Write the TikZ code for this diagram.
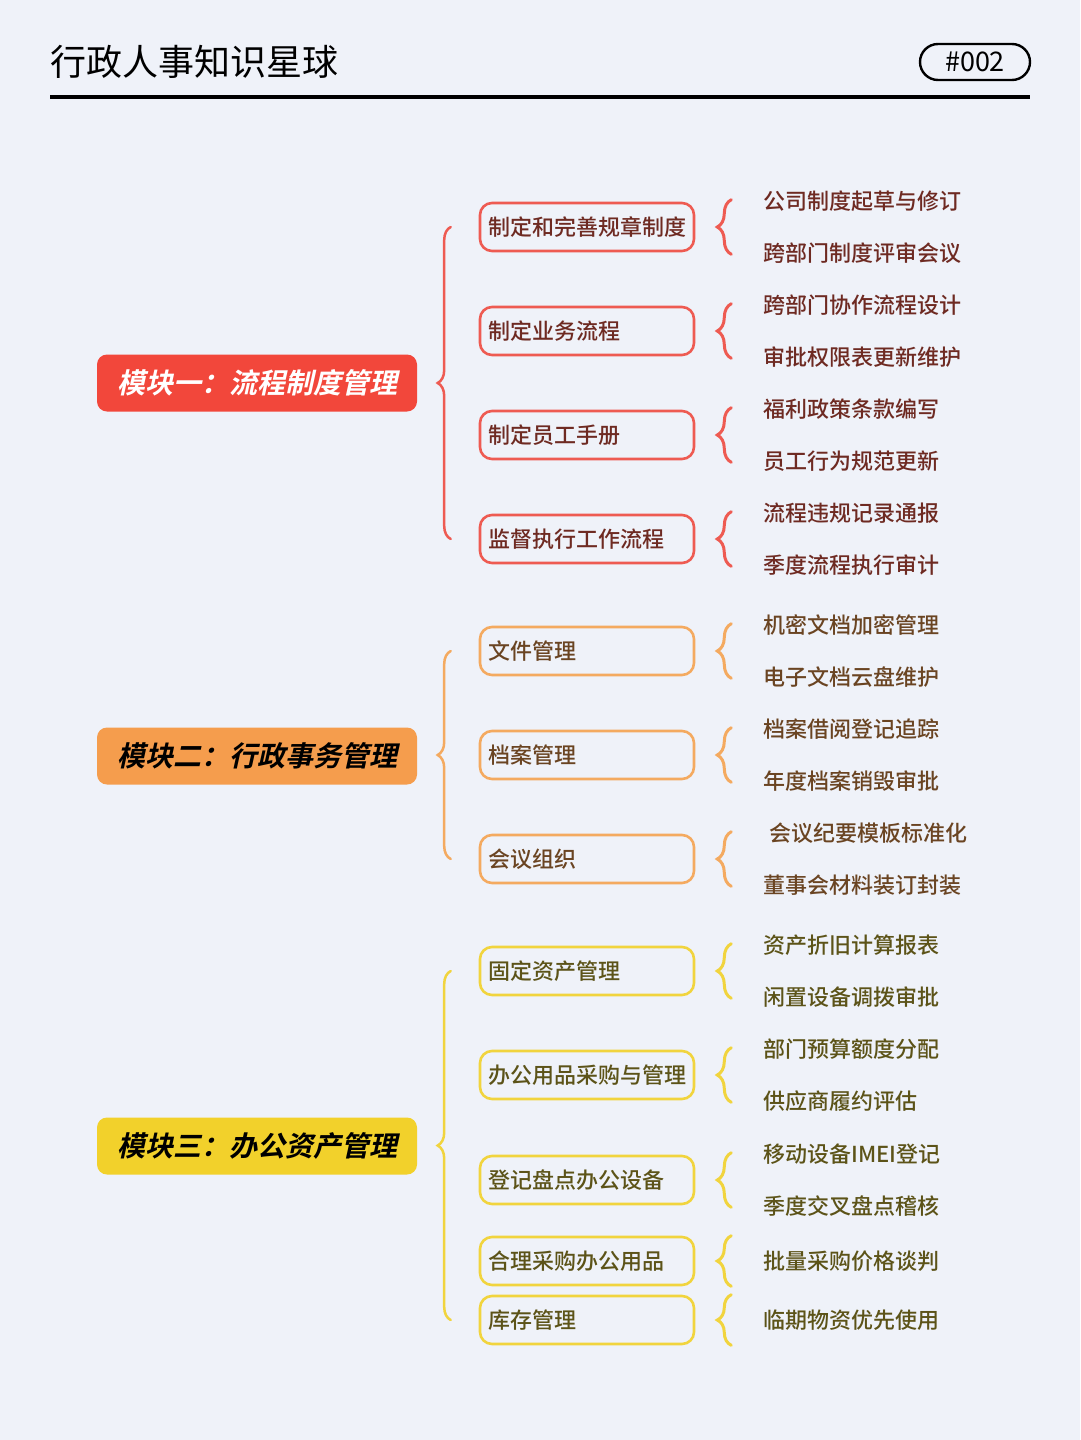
\documentclass[tikz,border=0pt]{standalone}
\usepackage{fontspec}
\setmainfont{Noto Sans CJK SC}
\newfontfamily\titlefont{Noto Sans CJK SC}
\newfontfamily\leaffont{Noto Sans CJK SC Medium}
\newfontfamily\modfont{Noto Sans CJK SC Bold}[FakeSlant=0.22]
\usepackage{tikz}
\usetikzlibrary{positioning, decorations.pathreplacing}

\definecolor{bgcol}{HTML}{EFF2F9}
\definecolor{redmain}{HTML}{F2473B}
\definecolor{redline}{HTML}{EE5B52}
\definecolor{redtext}{HTML}{6E2A22}
\definecolor{orgmain}{HTML}{F59D4D}
\definecolor{orgline}{HTML}{F4AA60}
\definecolor{orgtext}{HTML}{6A4422}
\definecolor{ylwmain}{HTML}{F2D12B}
\definecolor{ylwline}{HTML}{F1D43E}
\definecolor{ylwtext}{HTML}{5C5318}

\tikzset{
  modbox/.style={fill=#1, rounded corners=10pt, minimum width=320pt, minimum height=57pt,
    inner sep=0pt, font=\modfont\fontsize{28}{28}\selectfont},
  subbox/.style={draw=#1, line width=2.6pt, rounded corners=12pt, fill=bgcol,
    text width=198pt, inner xsep=8pt, inner ysep=0pt, minimum height=48pt, align=left,
    font=\leaffont\fontsize{22}{22}\selectfont},
  leaf/.style={anchor=west, inner sep=0pt, font=\leaffont\fontsize{22}{22}\selectfont},
  bigbrace/.style={draw=#1, line width=2.5pt, line cap=round, decorate, decoration={brace, amplitude=13pt}},
  smallbrace/.style={draw=#1, line width=3pt, line cap=round, decorate, decoration={brace, amplitude=14pt}},
}

\begin{document}
\begin{tikzpicture}[x=1pt, y=-1pt]
  \fill[bgcol] (0,0) rectangle (1080,1440);
  \useasboundingbox (0,0) rectangle (1080,1440);

  % header
  \node[anchor=west, inner sep=0pt, font=\titlefont\fontsize{36}{36}\selectfont] (title) at (50,62) {行政人事知识星球};
  \node[draw, line width=2.4pt, rounded corners=18pt, minimum width=110pt, minimum height=36pt,
    inner sep=0pt, font=\fontsize{27}{27}\selectfont] (num) at (975,62) {\#002};
  \draw[line width=4pt] (50,97) -- (1030,97);

  % module one
  \node[modbox=redmain, text=white] (m1) at (257,383) {模块一：流程制度管理};
  \node[subbox=redline, text=redtext] (r1) at (587,227) {制定和完善规章制度};
  \node[subbox=redline, text=redtext] (r2) at (587,331) {制定业务流程};
  \node[subbox=redline, text=redtext] (r3) at (587,435) {制定员工手册};
  \node[subbox=redline, text=redtext] (r4) at (587,539) {监督执行工作流程};
  \draw[bigbrace=redline] ([xshift=-28pt]r4.west) -- ([xshift=-28pt]r1.west);
  \node[leaf, text=redtext] (r1a) at ([xshift=68pt,yshift=26pt]r1.east) {公司制度起草与修订};
  \node[leaf, text=redtext] (r1b) at ([xshift=68pt,yshift=-26pt]r1.east) {跨部门制度评审会议};
  \node[leaf, text=redtext] (r2a) at ([xshift=68pt,yshift=26pt]r2.east) {跨部门协作流程设计};
  \node[leaf, text=redtext] (r2b) at ([xshift=68pt,yshift=-26pt]r2.east) {审批权限表更新维护};
  \node[leaf, text=redtext] (r3a) at ([xshift=68pt,yshift=26pt]r3.east) {福利政策条款编写};
  \node[leaf, text=redtext] (r3b) at ([xshift=68pt,yshift=-26pt]r3.east) {员工行为规范更新};
  \node[leaf, text=redtext] (r4a) at ([xshift=68pt,yshift=26pt]r4.east) {流程违规记录通报};
  \node[leaf, text=redtext] (r4b) at ([xshift=68pt,yshift=-26pt]r4.east) {季度流程执行审计};
  \draw[smallbrace=redline] ([xshift=36pt,yshift=-2pt]r1.south east) -- ([xshift=36pt,yshift=2pt]r1.north east);
  \draw[smallbrace=redline] ([xshift=36pt,yshift=-2pt]r2.south east) -- ([xshift=36pt,yshift=2pt]r2.north east);
  \draw[smallbrace=redline] ([xshift=36pt,yshift=-2pt]r3.south east) -- ([xshift=36pt,yshift=2pt]r3.north east);
  \draw[smallbrace=redline] ([xshift=36pt,yshift=-2pt]r4.south east) -- ([xshift=36pt,yshift=2pt]r4.north east);

  % module two
  \node[modbox=orgmain, text=black] (m2) at (257,756) {模块二：行政事务管理};
  \node[subbox=orgline, text=orgtext] (o1) at (587,651) {文件管理};
  \node[subbox=orgline, text=orgtext] (o2) at (587,755) {档案管理};
  \node[subbox=orgline, text=orgtext] (o3) at (587,859) {会议组织};
  \draw[bigbrace=orgline] ([xshift=-28pt]o3.west) -- ([xshift=-28pt]o1.west);
  \node[leaf, text=orgtext] (o1a) at ([xshift=68pt,yshift=26pt]o1.east) {机密文档加密管理};
  \node[leaf, text=orgtext] (o1b) at ([xshift=68pt,yshift=-26pt]o1.east) {电子文档云盘维护};
  \node[leaf, text=orgtext] (o2a) at ([xshift=68pt,yshift=26pt]o2.east) {档案借阅登记追踪};
  \node[leaf, text=orgtext] (o2b) at ([xshift=68pt,yshift=-26pt]o2.east) {年度档案销毁审批};
  \node[leaf, text=orgtext] (o3a) at ([xshift=74pt,yshift=26pt]o3.east) {会议纪要模板标准化};
  \node[leaf, text=orgtext] (o3b) at ([xshift=68pt,yshift=-26pt]o3.east) {董事会材料装订封装};
  \draw[smallbrace=orgline] ([xshift=36pt,yshift=-2pt]o1.south east) -- ([xshift=36pt,yshift=2pt]o1.north east);
  \draw[smallbrace=orgline] ([xshift=36pt,yshift=-2pt]o2.south east) -- ([xshift=36pt,yshift=2pt]o2.north east);
  \draw[smallbrace=orgline] ([xshift=36pt,yshift=-2pt]o3.south east) -- ([xshift=36pt,yshift=2pt]o3.north east);

  % module three
  \node[modbox=ylwmain, text=black] (m3) at (257,1146) {模块三：办公资产管理};
  \node[subbox=ylwline, text=ylwtext] (y1) at (587,971) {固定资产管理};
  \node[subbox=ylwline, text=ylwtext] (y2) at (587,1075) {办公用品采购与管理};
  \node[subbox=ylwline, text=ylwtext] (y3) at (587,1180) {登记盘点办公设备};
  \node[subbox=ylwline, text=ylwtext] (y4) at (587,1261) {合理采购办公用品};
  \node[subbox=ylwline, text=ylwtext] (y5) at (587,1320) {库存管理};
  \draw[bigbrace=ylwline] ([xshift=-28pt]y5.west) -- ([xshift=-28pt]y1.west);
  \node[leaf, text=ylwtext] (y1a) at ([xshift=68pt,yshift=26pt]y1.east) {资产折旧计算报表};
  \node[leaf, text=ylwtext] (y1b) at ([xshift=68pt,yshift=-26pt]y1.east) {闲置设备调拨审批};
  \node[leaf, text=ylwtext] (y2a) at ([xshift=68pt,yshift=26pt]y2.east) {部门预算额度分配};
  \node[leaf, text=ylwtext] (y2b) at ([xshift=68pt,yshift=-26pt]y2.east) {供应商履约评估};
  \node[leaf, text=ylwtext] (y3a) at ([xshift=68pt,yshift=26pt]y3.east) {移动设备IMEI登记};
  \node[leaf, text=ylwtext] (y3b) at ([xshift=68pt,yshift=-26pt]y3.east) {季度交叉盘点稽核};
  \node[leaf, text=ylwtext] (y4a) at ([xshift=68pt]y4.east) {批量采购价格谈判};
  \node[leaf, text=ylwtext] (y5a) at ([xshift=68pt]y5.east) {临期物资优先使用};
  \draw[smallbrace=ylwline] ([xshift=36pt,yshift=-2pt]y1.south east) -- ([xshift=36pt,yshift=2pt]y1.north east);
  \draw[smallbrace=ylwline] ([xshift=36pt,yshift=-2pt]y2.south east) -- ([xshift=36pt,yshift=2pt]y2.north east);
  \draw[smallbrace=ylwline] ([xshift=36pt,yshift=-2pt]y3.south east) -- ([xshift=36pt,yshift=2pt]y3.north east);
  \draw[smallbrace=ylwline] ([xshift=36pt]y4.south east) -- ([xshift=36pt]y4.north east);
  \draw[smallbrace=ylwline] ([xshift=36pt]y5.south east) -- ([xshift=36pt]y5.north east);
\end{tikzpicture}
\end{document}
